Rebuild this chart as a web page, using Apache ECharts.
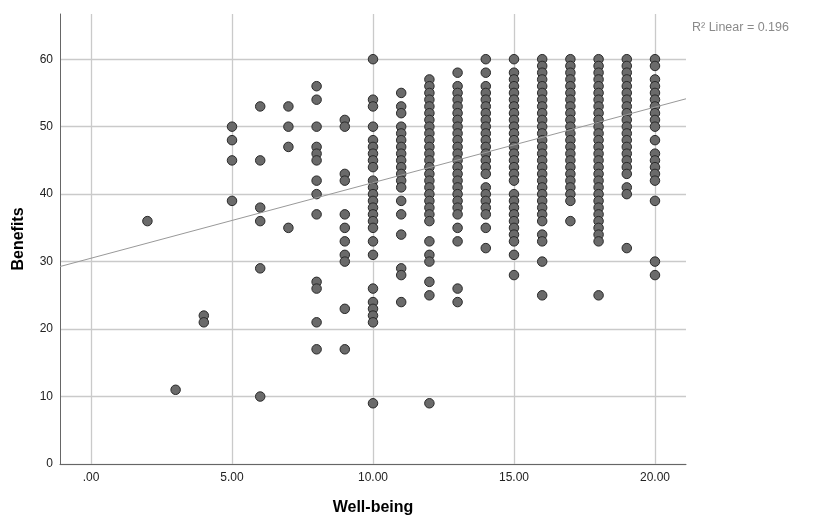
<!DOCTYPE html>
<html>
<head>
<meta charset="utf-8">
<script src="https://cdn.jsdelivr.net/npm/echarts@6/dist/echarts.min.js"></script>
<style>html,body{margin:0;padding:0;background:#fff}#c{width:814px;height:518px}</style>
</head>
<body>
<div id="c"></div>
<script>
// Benefits values observed at each Well-being score
const wb2 = [36];
const wb3 = [11];
const wb4 = [22, 21];
const wb5 = [50, 48, 45, 39];
const wb6 = [53, 45, 38, 36, 29, 10];
const wb7 = [53, 50, 47, 35];
const wb8 = [56, 54, 50, 47, 46, 45, 42, 40, 37, 27, 26, 21, 17];
const wb9 = [51, 50, 43, 42, 37, 35, 33, 31, 30, 23, 17];
const wb10 = [60, 54, 53, 50, 48, 47, 46, 45, 44, 42, 41, 40, 39, 38, 37, 36, 35, 33, 31, 26, 24, 23, 22, 21, 9];
const wb11 = [55, 53, 52, 50, 49, 48, 47, 46, 45, 44, 43, 42, 41, 39, 37, 34, 29, 28, 24];
const wb12 = [57, 56, 55, 54, 53, 52, 51, 50, 49, 48, 47, 46, 45, 44, 43, 42, 41, 40, 39, 38, 37, 36, 33, 31, 30, 27, 25, 9];
const wb13 = [58, 56, 55, 54, 53, 52, 51, 50, 49, 48, 47, 46, 45, 44, 43, 42, 41, 40, 39, 38, 37, 35, 33, 26, 24];
const wb14 = [60, 58, 56, 55, 54, 53, 52, 51, 50, 49, 48, 47, 46, 45, 44, 43, 41, 40, 39, 38, 37, 35, 32];
const wb15 = [60, 58, 57, 56, 55, 54, 53, 52, 51, 50, 49, 48, 47, 46, 45, 44, 43, 42, 40, 39, 38, 37, 36, 35, 34, 33, 31, 28];
const wb16 = [60, 59, 58, 57, 56, 55, 54, 53, 52, 51, 50, 49, 48, 47, 46, 45, 44, 43, 42, 41, 40, 39, 38, 37, 36, 34, 33, 30, 25];
const wb17 = [60, 59, 58, 57, 56, 55, 54, 53, 52, 51, 50, 49, 48, 47, 46, 45, 44, 43, 42, 41, 40, 39, 36];
const wb18 = [60, 59, 58, 57, 56, 55, 54, 53, 52, 51, 50, 49, 48, 47, 46, 45, 44, 43, 42, 41, 40, 39, 38, 37, 36, 35, 34, 33, 25];
const wb19 = [60, 59, 58, 57, 56, 55, 54, 53, 52, 51, 50, 49, 48, 47, 46, 45, 44, 43, 41, 40, 32];
const wb20 = [60, 59, 57, 56, 55, 54, 53, 52, 51, 50, 48, 46, 45, 44, 43, 42, 39, 30, 28];

const columns = [
  [2, wb2], [3, wb3], [4, wb4], [5, wb5], [6, wb6], [7, wb7], [8, wb8], [9, wb9],
  [10, wb10], [11, wb11], [12, wb12], [13, wb13], [14, wb14], [15, wb15],
  [16, wb16], [17, wb17], [18, wb18], [19, wb19], [20, wb20]
];

const xTicks = [0, 5, 10, 15, 20];
const yTicks = [0, 10, 20, 30, 40, 50, 60];
const fitIntercept = 30.5;
const fitSlope = 1.12;
const xRange = [-1.1, 21.1];
const yRange = [0, 66.7];

const points = [];
columns.forEach(([x, ys]) => ys.forEach(y => points.push([x, y])));
const fitLine = xRange.map(x => [x, fitIntercept + fitSlope * x]);

const chart = echarts.init(document.getElementById('c'), null, {renderer: 'canvas'});
const font = 'Liberation Sans, Arial, sans-serif';
chart.setOption({
  animation: false,
  backgroundColor: '#fff',
  title: {
    text: 'R² Linear = 0.196',
    left: 687, top: 16,
    textStyle: {color: '#8a8a8a', fontSize: 12.5, fontWeight: 'normal', fontFamily: font}
  },
  grid: {left: 60, right: 128, top: 14, bottom: 54, containLabel: false, outerBoundsMode: 'none'},
  xAxis: {
    type: 'value', min: xRange[0], max: xRange[1],
    name: 'Well-being', nameLocation: 'middle', nameGap: 36,
    nameTextStyle: {color: '#000', fontSize: 16, fontWeight: 'bold', fontFamily: font},
    axisLine: {show: true, onZero: false, lineStyle: {color: '#666', width: 1}},
    axisTick: {show: false, customValues: xTicks},
    axisLabel: {customValues: xTicks, color: '#222', fontSize: 12, fontFamily: font, margin: 8,
      formatter: v => v === 0 ? '.00' : v.toFixed(2)},
    splitLine: {show: true, lineStyle: {color: '#cacaca', width: 1.3}}
  },
  yAxis: {
    type: 'value', min: yRange[0], max: yRange[1],
    name: 'Benefits', nameLocation: 'middle', nameGap: 33,
    nameTextStyle: {color: '#000', fontSize: 16, fontWeight: 'bold', fontFamily: font},
    axisLine: {show: true, onZero: false, lineStyle: {color: '#666', width: 1}},
    axisTick: {show: false, customValues: yTicks},
    axisLabel: {customValues: yTicks, color: '#222', fontSize: 12, fontFamily: font, margin: 7},
    splitLine: {show: true, lineStyle: {color: '#cacaca', width: 1.3}}
  },
  series: [
    {
      type: 'scatter', data: points, symbolSize: 9.5,
      itemStyle: {color: '#6a6a6a', borderColor: '#2a2a2a', borderWidth: 1, opacity: 1}
    },
    {
      type: 'line', data: fitLine, showSymbol: false, symbol: 'none',
      lineStyle: {color: '#999', width: 1}, z: 3
    }
  ]
});
</script>
</body>
</html>
